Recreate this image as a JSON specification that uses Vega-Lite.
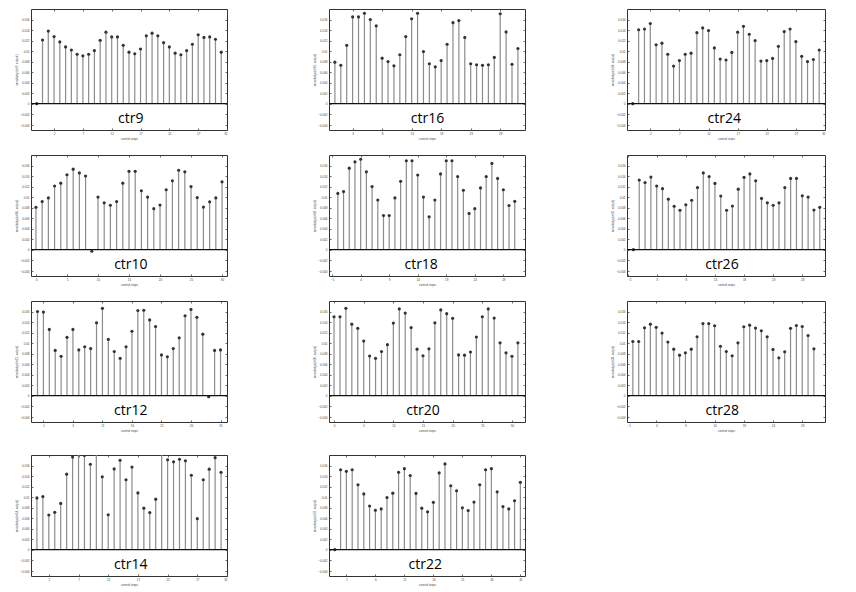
{
"$schema":"https://vega.github.io/schema/vega-lite/v6.json",
"background":"white",
"padding":{"left":14,"top":8,"right":5,"bottom":5},
"datasets":{
"ctr9":[{"t":-1,"v":0},{"t":0,"v":0.0121},{"t":1,"v":0.0138},{"t":2,"v":0.01275},{"t":3,"v":0.01175},{"t":4,"v":0.0108},{"t":5,"v":0.0102},{"t":6,"v":0.0094},{"t":7,"v":0.0091},{"t":8,"v":0.0094},{"t":9,"v":0.0101},{"t":10,"v":0.01205},{"t":11,"v":0.0136},{"t":12,"v":0.0127},{"t":13,"v":0.0127},{"t":14,"v":0.0111},{"t":15,"v":0.0098},{"t":16,"v":0.0095},{"t":17,"v":0.0104},{"t":18,"v":0.0129},{"t":19,"v":0.0134},{"t":20,"v":0.0129},{"t":21,"v":0.0116},{"t":22,"v":0.0108},{"t":23,"v":0.0096},{"t":24,"v":0.0093},{"t":25,"v":0.0101},{"t":26,"v":0.0113},{"t":27,"v":0.0131},{"t":28,"v":0.0126},{"t":29,"v":0.0127},{"t":30,"v":0.01225},{"t":31,"v":0.0098}],
"ctr16":[{"t":0,"v":0.0079},{"t":1,"v":0.0073},{"t":2,"v":0.0111},{"t":3,"v":0.0165},{"t":4,"v":0.0165},{"t":5,"v":0.0172},{"t":6,"v":0.016},{"t":7,"v":0.0148},{"t":8,"v":0.00865},{"t":9,"v":0.008},{"t":10,"v":0.0072},{"t":11,"v":0.0093},{"t":12,"v":0.01275},{"t":13,"v":0.01615},{"t":14,"v":0.0172},{"t":15,"v":0.0099},{"t":16,"v":0.0076},{"t":17,"v":0.007},{"t":18,"v":0.0082},{"t":19,"v":0.0113},{"t":20,"v":0.0154},{"t":21,"v":0.0158},{"t":22,"v":0.0126},{"t":23,"v":0.0076},{"t":24,"v":0.0074},{"t":25,"v":0.0073},{"t":26,"v":0.0074},{"t":27,"v":0.0088},{"t":28,"v":0.0171},{"t":29,"v":0.01365},{"t":30,"v":0.0075},{"t":31,"v":0.0105}],
"ctr24":[{"t":-1,"v":0},{"t":0,"v":0.01405},{"t":1,"v":0.0142},{"t":2,"v":0.01525},{"t":3,"v":0.0112},{"t":4,"v":0.0115},{"t":5,"v":0.0094},{"t":6,"v":0.00715},{"t":7,"v":0.0082},{"t":8,"v":0.0094},{"t":9,"v":0.0096},{"t":10,"v":0.0135},{"t":11,"v":0.0144},{"t":12,"v":0.0139},{"t":13,"v":0.0106},{"t":14,"v":0.0085},{"t":15,"v":0.0083},{"t":16,"v":0.00975},{"t":17,"v":0.0136},{"t":18,"v":0.0147},{"t":19,"v":0.0132},{"t":20,"v":0.012},{"t":21,"v":0.0081},{"t":22,"v":0.0082},{"t":23,"v":0.0086},{"t":24,"v":0.0109},{"t":25,"v":0.0137},{"t":26,"v":0.0142},{"t":27,"v":0.0118},{"t":28,"v":0.009},{"t":29,"v":0.008},{"t":30,"v":0.0084},{"t":31,"v":0.0102}],
"ctr10":[{"t":0,"v":0.00805},{"t":1,"v":0.00915},{"t":2,"v":0.00985},{"t":3,"v":0.0121},{"t":4,"v":0.01265},{"t":5,"v":0.01425},{"t":6,"v":0.0153},{"t":7,"v":0.0146},{"t":8,"v":0.014},{"t":9,"v":-0.0003},{"t":10,"v":0.01},{"t":11,"v":0.0089},{"t":12,"v":0.00845},{"t":13,"v":0.00915},{"t":14,"v":0.01265},{"t":15,"v":0.0149},{"t":16,"v":0.0149},{"t":17,"v":0.0112},{"t":18,"v":0.01},{"t":19,"v":0.0078},{"t":20,"v":0.0085},{"t":21,"v":0.0114},{"t":22,"v":0.0131},{"t":23,"v":0.0151},{"t":24,"v":0.0148},{"t":25,"v":0.012},{"t":26,"v":0.0099},{"t":27,"v":0.0081},{"t":28,"v":0.0091},{"t":29,"v":0.00985},{"t":30,"v":0.0129}],
"ctr18":[{"t":0,"v":0.0107},{"t":1,"v":0.01105},{"t":2,"v":0.0155},{"t":3,"v":0.0167},{"t":4,"v":0.0172},{"t":5,"v":0.0148},{"t":6,"v":0.012},{"t":7,"v":0.00945},{"t":8,"v":0.0065},{"t":9,"v":0.0065},{"t":10,"v":0.00985},{"t":11,"v":0.013},{"t":12,"v":0.0169},{"t":13,"v":0.0169},{"t":14,"v":0.0142},{"t":15,"v":0.01},{"t":16,"v":0.00625},{"t":17,"v":0.00945},{"t":18,"v":0.0144},{"t":19,"v":0.0169},{"t":20,"v":0.0169},{"t":21,"v":0.0139},{"t":22,"v":0.0113},{"t":23,"v":0.0069},{"t":24,"v":0.0078},{"t":25,"v":0.01175},{"t":26,"v":0.0139},{"t":27,"v":0.0164},{"t":28,"v":0.01355},{"t":29,"v":0.0114},{"t":30,"v":0.0084},{"t":31,"v":0.0092}],
"ctr26":[{"t":-1,"v":0},{"t":0,"v":0.01325},{"t":1,"v":0.01275},{"t":2,"v":0.0138},{"t":3,"v":0.0121},{"t":4,"v":0.0116},{"t":5,"v":0.0096},{"t":6,"v":0.00825},{"t":7,"v":0.0075},{"t":8,"v":0.00855},{"t":9,"v":0.0094},{"t":10,"v":0.0118},{"t":11,"v":0.0146},{"t":12,"v":0.0139},{"t":13,"v":0.0126},{"t":14,"v":0.0102},{"t":15,"v":0.0075},{"t":16,"v":0.0083},{"t":17,"v":0.0115},{"t":18,"v":0.01375},{"t":19,"v":0.0144},{"t":20,"v":0.0131},{"t":21,"v":0.00975},{"t":22,"v":0.0089},{"t":23,"v":0.00845},{"t":24,"v":0.0089},{"t":25,"v":0.0118},{"t":26,"v":0.01355},{"t":27,"v":0.01355},{"t":28,"v":0.01025},{"t":29,"v":0.01},{"t":30,"v":0.00755},{"t":31,"v":0.00805}],
"ctr12":[{"t":0,"v":0.016},{"t":1,"v":0.0159},{"t":2,"v":0.0126},{"t":3,"v":0.0086},{"t":4,"v":0.0075},{"t":5,"v":0.0111},{"t":6,"v":0.0126},{"t":7,"v":0.0087},{"t":8,"v":0.0093},{"t":9,"v":0.00895},{"t":10,"v":0.01385},{"t":11,"v":0.0166},{"t":12,"v":0.0107},{"t":13,"v":0.0084},{"t":14,"v":0.0071},{"t":15,"v":0.0093},{"t":16,"v":0.01225},{"t":17,"v":0.0162},{"t":18,"v":0.01625},{"t":19,"v":0.0144},{"t":20,"v":0.01315},{"t":21,"v":0.00775},{"t":22,"v":0.0074},{"t":23,"v":0.00895},{"t":24,"v":0.011},{"t":25,"v":0.0152},{"t":26,"v":0.0164},{"t":27,"v":0.0149},{"t":28,"v":0.0117},{"t":29,"v":-0.0002},{"t":30,"v":0.0086},{"t":31,"v":0.0087}],
"ctr20":[{"t":0,"v":0.015},{"t":1,"v":0.015},{"t":2,"v":0.0166},{"t":3,"v":0.0136},{"t":4,"v":0.0128},{"t":5,"v":0.0104},{"t":6,"v":0.00755},{"t":7,"v":0.0071},{"t":8,"v":0.0084},{"t":9,"v":0.0097},{"t":10,"v":0.0138},{"t":11,"v":0.0165},{"t":12,"v":0.0157},{"t":13,"v":0.01295},{"t":14,"v":0.00885},{"t":15,"v":0.0076},{"t":16,"v":0.0089},{"t":17,"v":0.01385},{"t":18,"v":0.0163},{"t":19,"v":0.0156},{"t":20,"v":0.0147},{"t":21,"v":0.00775},{"t":22,"v":0.0077},{"t":23,"v":0.0083},{"t":24,"v":0.01115},{"t":25,"v":0.015},{"t":26,"v":0.0165},{"t":27,"v":0.01475},{"t":28,"v":0.01005},{"t":29,"v":0.00815},{"t":30,"v":0.0075},{"t":31,"v":0.01005}],
"ctr28":[{"t":0,"v":0.0103},{"t":1,"v":0.0103},{"t":2,"v":0.0129},{"t":3,"v":0.0136},{"t":4,"v":0.013},{"t":5,"v":0.0119},{"t":6,"v":0.0102},{"t":7,"v":0.00885},{"t":8,"v":0.0077},{"t":9,"v":0.00815},{"t":10,"v":0.00885},{"t":11,"v":0.0112},{"t":12,"v":0.0137},{"t":13,"v":0.0137},{"t":14,"v":0.0133},{"t":15,"v":0.0094},{"t":16,"v":0.0084},{"t":17,"v":0.0076},{"t":18,"v":0.01005},{"t":19,"v":0.0131},{"t":20,"v":0.0134},{"t":21,"v":0.01285},{"t":22,"v":0.01235},{"t":23,"v":0.0112},{"t":24,"v":0.0088},{"t":25,"v":0.0072},{"t":26,"v":0.00835},{"t":27,"v":0.0128},{"t":28,"v":0.01335},{"t":29,"v":0.01315},{"t":30,"v":0.01145},{"t":31,"v":0.0089}],
"ctr14":[{"t":0,"v":0.00985},{"t":1,"v":0.0101},{"t":2,"v":0.0066},{"t":3,"v":0.0071},{"t":4,"v":0.0088},{"t":5,"v":0.01435},{"t":6,"v":0.0176},{"t":7,"v":0.0185},{"t":8,"v":0.0179},{"t":9,"v":0.01625},{"t":10,"v":0.0186},{"t":11,"v":0.01385},{"t":12,"v":0.00665},{"t":13,"v":0.01535},{"t":14,"v":0.017},{"t":15,"v":0.0133},{"t":16,"v":0.0157},{"t":17,"v":0.0108},{"t":18,"v":0.0079},{"t":19,"v":0.00705},{"t":20,"v":0.0096},{"t":21,"v":0.0184},{"t":22,"v":0.0171},{"t":23,"v":0.0167},{"t":24,"v":0.0172},{"t":25,"v":0.0169},{"t":26,"v":0.01415},{"t":27,"v":0.0059},{"t":28,"v":0.0133},{"t":29,"v":0.0153},{"t":30,"v":0.0175},{"t":31,"v":0.0147}],
"ctr22":[{"t":-1,"v":0},{"t":0,"v":0.0152},{"t":1,"v":0.0149},{"t":2,"v":0.0152},{"t":3,"v":0.01235},{"t":4,"v":0.0106},{"t":5,"v":0.0083},{"t":6,"v":0.0075},{"t":7,"v":0.00775},{"t":8,"v":0.0099},{"t":9,"v":0.01075},{"t":10,"v":0.0147},{"t":11,"v":0.0154},{"t":12,"v":0.0141},{"t":13,"v":0.0107},{"t":14,"v":0.0079},{"t":15,"v":0.0072},{"t":16,"v":0.009},{"t":17,"v":0.0146},{"t":18,"v":0.0163},{"t":19,"v":0.01215},{"t":20,"v":0.0112},{"t":21,"v":0.00795},{"t":22,"v":0.00745},{"t":23,"v":0.00905},{"t":24,"v":0.01235},{"t":25,"v":0.0152},{"t":26,"v":0.0154},{"t":27,"v":0.011},{"t":28,"v":0.0082},{"t":29,"v":0.00775},{"t":30,"v":0.0093},{"t":31,"v":0.0128}]
},
"spacing":13,
"vconcat":[
{"spacing":13,"vconcat":[
 {"bounds":"flush","spacing":102,"hconcat":[
  {"width":196,"height":121,"resolve":{"axis":{"x":"independent","y":"independent"}},"layer":[
   {"data":{"name":"ctr9"},"mark":{"type":"rule","color":"#8c8c8c","strokeWidth":1.2,"clip":true},"encoding":{"x":{"field":"t","type":"quantitative","scale":{"domain":[-2,32],"nice":false,"zero":false},"axis":{"values":[2,7,12,17,22,27,32],"title":"control steps"}},"y":{"field":"v","type":"quantitative","scale":{"domain":[-0.005,0.018],"nice":false,"zero":false},"axis":{"values":[-0.004,-0.002,0,0.002,0.004,0.006,0.008,0.01,0.012,0.014,0.016],"format":"~r","title":"sensitivity (ctr9, output)"}},"y2":{"datum":0}}},
   {"data":{"name":"ctr9"},"mark":{"type":"point","filled":true,"size":10,"color":"#333","opacity":1,"clip":true},"encoding":{"x":{"field":"t","type":"quantitative","axis":{"orient":"top","values":[2,7,12,17,22,27,32],"labels":false,"title":null}},"y":{"field":"v","type":"quantitative","axis":{"orient":"right","values":[-0.004,-0.002,0,0.002,0.004,0.006,0.008,0.01,0.012,0.014,0.016],"labels":false,"title":null}}}},
   {"data":{"values":[{"v":0}]},"mark":{"type":"rule","color":"#111","strokeWidth":1.3},"encoding":{"y":{"field":"v","type":"quantitative","axis":null}}},
   {"data":{"values":[{"label":"ctr9"}]},"mark":{"type":"text","font":"Open Sans","fontSize":14,"color":"#000","baseline":"middle"},"encoding":{"x":{"datum":15.3,"type":"quantitative","axis":null},"y":{"datum":-0.003,"type":"quantitative","axis":null},"text":{"field":"label"}}}
  ]},
  {"width":196,"height":121,"resolve":{"axis":{"x":"independent","y":"independent"}},"layer":[
   {"data":{"name":"ctr16"},"mark":{"type":"rule","color":"#8c8c8c","strokeWidth":1.2,"clip":true},"encoding":{"x":{"field":"t","type":"quantitative","scale":{"domain":[-1,32.2],"nice":false,"zero":false},"axis":{"values":[3,8,13,18,23,28],"title":"control steps"}},"y":{"field":"v","type":"quantitative","scale":{"domain":[-0.005,0.018],"nice":false,"zero":false},"axis":{"values":[-0.004,-0.002,0,0.002,0.004,0.006,0.008,0.01,0.012,0.014,0.016],"format":"~r","title":"sensitivity (ctr16, output)"}},"y2":{"datum":0}}},
   {"data":{"name":"ctr16"},"mark":{"type":"point","filled":true,"size":10,"color":"#333","opacity":1,"clip":true},"encoding":{"x":{"field":"t","type":"quantitative","axis":{"orient":"top","values":[3,8,13,18,23,28],"labels":false,"title":null}},"y":{"field":"v","type":"quantitative","axis":{"orient":"right","values":[-0.004,-0.002,0,0.002,0.004,0.006,0.008,0.01,0.012,0.014,0.016],"labels":false,"title":null}}}},
   {"data":{"values":[{"v":0}]},"mark":{"type":"rule","color":"#111","strokeWidth":1.3},"encoding":{"y":{"field":"v","type":"quantitative","axis":null}}},
   {"data":{"values":[{"label":"ctr16"}]},"mark":{"type":"text","font":"Open Sans","fontSize":14,"color":"#000","baseline":"middle"},"encoding":{"x":{"datum":15.7,"type":"quantitative","axis":null},"y":{"datum":-0.003,"type":"quantitative","axis":null},"text":{"field":"label"}}}
  ]},
  {"width":198,"height":121,"resolve":{"axis":{"x":"independent","y":"independent"}},"layer":[
   {"data":{"name":"ctr24"},"mark":{"type":"rule","color":"#8c8c8c","strokeWidth":1.2,"clip":true},"encoding":{"x":{"field":"t","type":"quantitative","scale":{"domain":[-2,32],"nice":false,"zero":false},"axis":{"values":[2,7,12,17,22,27,32],"title":"control steps"}},"y":{"field":"v","type":"quantitative","scale":{"domain":[-0.005,0.018],"nice":false,"zero":false},"axis":{"values":[-0.004,-0.002,0,0.002,0.004,0.006,0.008,0.01,0.012,0.014,0.016],"format":"~r","title":"sensitivity (ctr24, output)"}},"y2":{"datum":0}}},
   {"data":{"name":"ctr24"},"mark":{"type":"point","filled":true,"size":10,"color":"#333","opacity":1,"clip":true},"encoding":{"x":{"field":"t","type":"quantitative","axis":{"orient":"top","values":[2,7,12,17,22,27,32],"labels":false,"title":null}},"y":{"field":"v","type":"quantitative","axis":{"orient":"right","values":[-0.004,-0.002,0,0.002,0.004,0.006,0.008,0.01,0.012,0.014,0.016],"labels":false,"title":null}}}},
   {"data":{"values":[{"v":0}]},"mark":{"type":"rule","color":"#111","strokeWidth":1.3},"encoding":{"y":{"field":"v","type":"quantitative","axis":null}}},
   {"data":{"values":[{"label":"ctr24"}]},"mark":{"type":"text","font":"Open Sans","fontSize":14,"color":"#000","baseline":"middle"},"encoding":{"x":{"datum":14.7,"type":"quantitative","axis":null},"y":{"datum":-0.003,"type":"quantitative","axis":null},"text":{"field":"label"}}}
  ]}
 ]},
 {"bounds":"flush","spacing":102,"hconcat":[
  {"width":196,"height":121,"resolve":{"axis":{"x":"independent","y":"independent"}},"layer":[
   {"data":{"name":"ctr10"},"mark":{"type":"rule","color":"#8c8c8c","strokeWidth":1.2,"clip":true},"encoding":{"x":{"field":"t","type":"quantitative","scale":{"domain":[-0.8,30.8],"nice":false,"zero":false},"axis":{"values":[0,5,10,15,20,25,30],"title":"control steps"}},"y":{"field":"v","type":"quantitative","scale":{"domain":[-0.005,0.018],"nice":false,"zero":false},"axis":{"values":[-0.004,-0.002,0,0.002,0.004,0.006,0.008,0.01,0.012,0.014,0.016],"format":"~r","title":"sensitivity (ctr10, output)"}},"y2":{"datum":0}}},
   {"data":{"name":"ctr10"},"mark":{"type":"point","filled":true,"size":10,"color":"#333","opacity":1,"clip":true},"encoding":{"x":{"field":"t","type":"quantitative","axis":{"orient":"top","values":[0,5,10,15,20,25,30],"labels":false,"title":null}},"y":{"field":"v","type":"quantitative","axis":{"orient":"right","values":[-0.004,-0.002,0,0.002,0.004,0.006,0.008,0.01,0.012,0.014,0.016],"labels":false,"title":null}}}},
   {"data":{"values":[{"v":0}]},"mark":{"type":"rule","color":"#111","strokeWidth":1.3},"encoding":{"y":{"field":"v","type":"quantitative","axis":null}}},
   {"data":{"values":[{"label":"ctr10"}]},"mark":{"type":"text","font":"Open Sans","fontSize":14,"color":"#000","baseline":"middle"},"encoding":{"x":{"datum":15.3,"type":"quantitative","axis":null},"y":{"datum":-0.003,"type":"quantitative","axis":null},"text":{"field":"label"}}}
  ]},
  {"width":196,"height":121,"resolve":{"axis":{"x":"independent","y":"independent"}},"layer":[
   {"data":{"name":"ctr18"},"mark":{"type":"rule","color":"#8c8c8c","strokeWidth":1.2,"clip":true},"encoding":{"x":{"field":"t","type":"quantitative","scale":{"domain":[-1.55,32.8],"nice":false,"zero":false},"axis":{"values":[-1,4,9,14,19,24,29],"title":"control steps"}},"y":{"field":"v","type":"quantitative","scale":{"domain":[-0.005,0.018],"nice":false,"zero":false},"axis":{"values":[-0.004,-0.002,0,0.002,0.004,0.006,0.008,0.01,0.012,0.014,0.016],"format":"~r","title":"sensitivity (ctr18, output)"}},"y2":{"datum":0}}},
   {"data":{"name":"ctr18"},"mark":{"type":"point","filled":true,"size":10,"color":"#333","opacity":1,"clip":true},"encoding":{"x":{"field":"t","type":"quantitative","axis":{"orient":"top","values":[-1,4,9,14,19,24,29],"labels":false,"title":null}},"y":{"field":"v","type":"quantitative","axis":{"orient":"right","values":[-0.004,-0.002,0,0.002,0.004,0.006,0.008,0.01,0.012,0.014,0.016],"labels":false,"title":null}}}},
   {"data":{"values":[{"v":0}]},"mark":{"type":"rule","color":"#111","strokeWidth":1.3},"encoding":{"y":{"field":"v","type":"quantitative","axis":null}}},
   {"data":{"values":[{"label":"ctr18"}]},"mark":{"type":"text","font":"Open Sans","fontSize":14,"color":"#000","baseline":"middle"},"encoding":{"x":{"datum":14.6,"type":"quantitative","axis":null},"y":{"datum":-0.003,"type":"quantitative","axis":null},"text":{"field":"label"}}}
  ]},
  {"width":198,"height":121,"resolve":{"axis":{"x":"independent","y":"independent"}},"layer":[
   {"data":{"name":"ctr26"},"mark":{"type":"rule","color":"#8c8c8c","strokeWidth":1.2,"clip":true},"encoding":{"x":{"field":"t","type":"quantitative","scale":{"domain":[-2.1,31.9],"nice":false,"zero":false},"axis":{"values":[-2,3,8,13,18,23,28],"title":"control steps"}},"y":{"field":"v","type":"quantitative","scale":{"domain":[-0.005,0.018],"nice":false,"zero":false},"axis":{"values":[-0.004,-0.002,0,0.002,0.004,0.006,0.008,0.01,0.012,0.014,0.016],"format":"~r","title":"sensitivity (ctr26, output)"}},"y2":{"datum":0}}},
   {"data":{"name":"ctr26"},"mark":{"type":"point","filled":true,"size":10,"color":"#333","opacity":1,"clip":true},"encoding":{"x":{"field":"t","type":"quantitative","axis":{"orient":"top","values":[-2,3,8,13,18,23,28],"labels":false,"title":null}},"y":{"field":"v","type":"quantitative","axis":{"orient":"right","values":[-0.004,-0.002,0,0.002,0.004,0.006,0.008,0.01,0.012,0.014,0.016],"labels":false,"title":null}}}},
   {"data":{"values":[{"v":0}]},"mark":{"type":"rule","color":"#111","strokeWidth":1.3},"encoding":{"y":{"field":"v","type":"quantitative","axis":null}}},
   {"data":{"values":[{"label":"ctr26"}]},"mark":{"type":"text","font":"Open Sans","fontSize":14,"color":"#000","baseline":"middle"},"encoding":{"x":{"datum":14.2,"type":"quantitative","axis":null},"y":{"datum":-0.003,"type":"quantitative","axis":null},"text":{"field":"label"}}}
  ]}
 ]}
]},
{"spacing":21,"vconcat":[
 {"bounds":"flush","spacing":102,"hconcat":[
  {"width":196,"height":121,"resolve":{"axis":{"x":"independent","y":"independent"}},"layer":[
   {"data":{"name":"ctr12"},"mark":{"type":"rule","color":"#8c8c8c","strokeWidth":1.2,"clip":true},"encoding":{"x":{"field":"t","type":"quantitative","scale":{"domain":[-1.1,32.1],"nice":false,"zero":false},"axis":{"values":[1,6,11,16,21,26,31],"title":"control steps"}},"y":{"field":"v","type":"quantitative","scale":{"domain":[-0.005,0.018],"nice":false,"zero":false},"axis":{"values":[-0.004,-0.002,0,0.002,0.004,0.006,0.008,0.01,0.012,0.014,0.016],"format":"~r","title":"sensitivity (ctr12, output)"}},"y2":{"datum":0}}},
   {"data":{"name":"ctr12"},"mark":{"type":"point","filled":true,"size":10,"color":"#333","opacity":1,"clip":true},"encoding":{"x":{"field":"t","type":"quantitative","axis":{"orient":"top","values":[1,6,11,16,21,26,31],"labels":false,"title":null}},"y":{"field":"v","type":"quantitative","axis":{"orient":"right","values":[-0.004,-0.002,0,0.002,0.004,0.006,0.008,0.01,0.012,0.014,0.016],"labels":false,"title":null}}}},
   {"data":{"values":[{"v":0}]},"mark":{"type":"rule","color":"#111","strokeWidth":1.3},"encoding":{"y":{"field":"v","type":"quantitative","axis":null}}},
   {"data":{"values":[{"label":"ctr12"}]},"mark":{"type":"text","font":"Open Sans","fontSize":14,"color":"#000","baseline":"middle"},"encoding":{"x":{"datum":15.8,"type":"quantitative","axis":null},"y":{"datum":-0.003,"type":"quantitative","axis":null},"text":{"field":"label"}}}
  ]},
  {"width":196,"height":121,"resolve":{"axis":{"x":"independent","y":"independent"}},"layer":[
   {"data":{"name":"ctr20"},"mark":{"type":"rule","color":"#8c8c8c","strokeWidth":1.2,"clip":true},"encoding":{"x":{"field":"t","type":"quantitative","scale":{"domain":[-0.85,32.2],"nice":false,"zero":false},"axis":{"values":[0,5,10,15,20,25,30],"title":"control steps"}},"y":{"field":"v","type":"quantitative","scale":{"domain":[-0.005,0.018],"nice":false,"zero":false},"axis":{"values":[-0.004,-0.002,0,0.002,0.004,0.006,0.008,0.01,0.012,0.014,0.016],"format":"~r","title":"sensitivity (ctr20, output)"}},"y2":{"datum":0}}},
   {"data":{"name":"ctr20"},"mark":{"type":"point","filled":true,"size":10,"color":"#333","opacity":1,"clip":true},"encoding":{"x":{"field":"t","type":"quantitative","axis":{"orient":"top","values":[0,5,10,15,20,25,30],"labels":false,"title":null}},"y":{"field":"v","type":"quantitative","axis":{"orient":"right","values":[-0.004,-0.002,0,0.002,0.004,0.006,0.008,0.01,0.012,0.014,0.016],"labels":false,"title":null}}}},
   {"data":{"values":[{"v":0}]},"mark":{"type":"rule","color":"#111","strokeWidth":1.3},"encoding":{"y":{"field":"v","type":"quantitative","axis":null}}},
   {"data":{"values":[{"label":"ctr20"}]},"mark":{"type":"text","font":"Open Sans","fontSize":14,"color":"#000","baseline":"middle"},"encoding":{"x":{"datum":15.0,"type":"quantitative","axis":null},"y":{"datum":-0.003,"type":"quantitative","axis":null},"text":{"field":"label"}}}
  ]},
  {"width":198,"height":121,"resolve":{"axis":{"x":"independent","y":"independent"}},"layer":[
   {"data":{"name":"ctr28"},"mark":{"type":"rule","color":"#8c8c8c","strokeWidth":1.2,"clip":true},"encoding":{"x":{"field":"t","type":"quantitative","scale":{"domain":[-1,32.9],"nice":false,"zero":false},"axis":{"values":[-1,4,9,14,19,24,29],"title":"control steps"}},"y":{"field":"v","type":"quantitative","scale":{"domain":[-0.005,0.018],"nice":false,"zero":false},"axis":{"values":[-0.004,-0.002,0,0.002,0.004,0.006,0.008,0.01,0.012,0.014,0.016],"format":"~r","title":"sensitivity (ctr28, output)"}},"y2":{"datum":0}}},
   {"data":{"name":"ctr28"},"mark":{"type":"point","filled":true,"size":10,"color":"#333","opacity":1,"clip":true},"encoding":{"x":{"field":"t","type":"quantitative","axis":{"orient":"top","values":[-1,4,9,14,19,24,29],"labels":false,"title":null}},"y":{"field":"v","type":"quantitative","axis":{"orient":"right","values":[-0.004,-0.002,0,0.002,0.004,0.006,0.008,0.01,0.012,0.014,0.016],"labels":false,"title":null}}}},
   {"data":{"values":[{"v":0}]},"mark":{"type":"rule","color":"#111","strokeWidth":1.3},"encoding":{"y":{"field":"v","type":"quantitative","axis":null}}},
   {"data":{"values":[{"label":"ctr28"}]},"mark":{"type":"text","font":"Open Sans","fontSize":14,"color":"#000","baseline":"middle"},"encoding":{"x":{"datum":15.3,"type":"quantitative","axis":null},"y":{"datum":-0.003,"type":"quantitative","axis":null},"text":{"field":"label"}}}
  ]}
 ]},
 {"bounds":"flush","spacing":102,"hconcat":[
  {"width":196,"height":121,"resolve":{"axis":{"x":"independent","y":"independent"}},"layer":[
   {"data":{"name":"ctr14"},"mark":{"type":"rule","color":"#8c8c8c","strokeWidth":1.2,"clip":true},"encoding":{"x":{"field":"t","type":"quantitative","scale":{"domain":[-1,32],"nice":false,"zero":false},"axis":{"values":[2,7,12,17,22,27,32],"title":"control steps"}},"y":{"field":"v","type":"quantitative","scale":{"domain":[-0.005,0.018],"nice":false,"zero":false},"axis":{"values":[-0.004,-0.002,0,0.002,0.004,0.006,0.008,0.01,0.012,0.014,0.016],"format":"~r","title":"sensitivity (ctr14, output)"}},"y2":{"datum":0}}},
   {"data":{"name":"ctr14"},"mark":{"type":"point","filled":true,"size":10,"color":"#333","opacity":1,"clip":true},"encoding":{"x":{"field":"t","type":"quantitative","axis":{"orient":"top","values":[2,7,12,17,22,27,32],"labels":false,"title":null}},"y":{"field":"v","type":"quantitative","axis":{"orient":"right","values":[-0.004,-0.002,0,0.002,0.004,0.006,0.008,0.01,0.012,0.014,0.016],"labels":false,"title":null}}}},
   {"data":{"values":[{"v":0}]},"mark":{"type":"rule","color":"#111","strokeWidth":1.3},"encoding":{"y":{"field":"v","type":"quantitative","axis":null}}},
   {"data":{"values":[{"label":"ctr14"}]},"mark":{"type":"text","font":"Open Sans","fontSize":14,"color":"#000","baseline":"middle"},"encoding":{"x":{"datum":15.8,"type":"quantitative","axis":null},"y":{"datum":-0.003,"type":"quantitative","axis":null},"text":{"field":"label"}}}
  ]},
  {"width":196,"height":121,"resolve":{"axis":{"x":"independent","y":"independent"}},"layer":[
   {"data":{"name":"ctr22"},"mark":{"type":"rule","color":"#8c8c8c","strokeWidth":1.2,"clip":true},"encoding":{"x":{"field":"t","type":"quantitative","scale":{"domain":[-2,31.8],"nice":false,"zero":false},"axis":{"values":[1,6,11,16,21,26,31],"title":"control steps"}},"y":{"field":"v","type":"quantitative","scale":{"domain":[-0.005,0.018],"nice":false,"zero":false},"axis":{"values":[-0.004,-0.002,0,0.002,0.004,0.006,0.008,0.01,0.012,0.014,0.016],"format":"~r","title":"sensitivity (ctr22, output)"}},"y2":{"datum":0}}},
   {"data":{"name":"ctr22"},"mark":{"type":"point","filled":true,"size":10,"color":"#333","opacity":1,"clip":true},"encoding":{"x":{"field":"t","type":"quantitative","axis":{"orient":"top","values":[1,6,11,16,21,26,31],"labels":false,"title":null}},"y":{"field":"v","type":"quantitative","axis":{"orient":"right","values":[-0.004,-0.002,0,0.002,0.004,0.006,0.008,0.01,0.012,0.014,0.016],"labels":false,"title":null}}}},
   {"data":{"values":[{"v":0}]},"mark":{"type":"rule","color":"#111","strokeWidth":1.3},"encoding":{"y":{"field":"v","type":"quantitative","axis":null}}},
   {"data":{"values":[{"label":"ctr22"}]},"mark":{"type":"text","font":"Open Sans","fontSize":14,"color":"#000","baseline":"middle"},"encoding":{"x":{"datum":14.6,"type":"quantitative","axis":null},"y":{"datum":-0.003,"type":"quantitative","axis":null},"text":{"field":"label"}}}
  ]}
 ]}
]}
],
"config":{
 "view":{"stroke":"#333","strokeWidth":1},
 "axis":{"grid":false,"domain":false,"ticks":true,"tickSize":-2,"tickColor":"#444","tickWidth":0.8,"labelFontSize":3,"labelColor":"#444","labelPadding":4,"labelFont":"Liberation Sans","titleFont":"Liberation Sans","titleFontSize":3,"titleColor":"#444","titleFontWeight":"normal","titlePadding":2}
}
}
